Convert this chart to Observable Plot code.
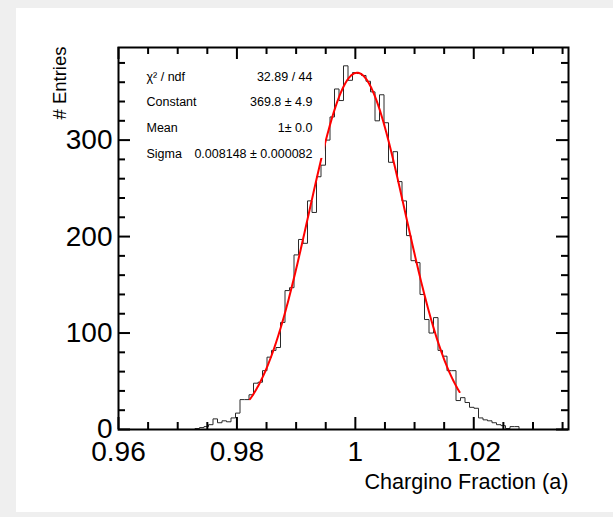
<!DOCTYPE html>
<html>
<head>
<meta charset="utf-8">
<script src="https://cdn.jsdelivr.net/npm/d3@7"></script>
<script src="https://cdn.jsdelivr.net/npm/@observablehq/plot@0.6"></script>
<style>
  html, body { margin: 0; padding: 0; background: #efefef; }
  #wrap { position: relative; width: 613px; height: 517px; overflow: hidden; background: #efefef; }
  #card { position: absolute; left: 16px; top: 8px; width: 620px; height: 504px; background: #ffffff; }
  #chart { position: absolute; left: 0; top: 0; }
</style>
</head>
<body>
<div id="wrap"><div id="card"></div><div id="chart"></div></div>
<script>
// ---- data: 100 bins from 0.96 to 1.036 ----
const binStart = 0.96;
const binWidth = 0.00076;
const counts = [
  0,0,0,0,0,0,0,0,0,0,
  0,0,0,0,0,0,0,1,2,3,
  5,11,7,9,8,12,17,31,31,36,
  48,49,61,75,82,85,111,144,147,181,
  197,193,237,225,262,274,300,324,353,341,
  377,362,370,369,367,361,350,320,347,318,
  277,288,257,237,201,175,173,140,114,100,
  116,82,76,61,61,30,33,28,23,22,
  12,10,9,7,5,4,1,3,3,0,
  0,0,0,0,0,0,0,0,0,0
];
const xTicks = [0.96, 0.98, 1, 1.02];
const xTickLabels = ["0.96", "0.98", "1", "1.02"];
const yTicks = [0, 100, 200, 300];
const yTickLabels = ["0", "100", "200", "300"];
const fitConstant = 369.8;
const fitMean = 1.0003;
const fitSigma = 0.008148;
const fitRange = [0.9822, 1.0176];
const statLabels = ["\u03C7\u00B2 / ndf", "Constant", "Mean", "Sigma"];
const statValues = ["32.89 / 44", "369.8 \u00B1 4.9", "1\u00B1 0.0", "0.008148 \u00B1 0.000082"];
const xTitle = "Chargino Fraction (a)";
const yTitle = "# Entries";
const xDomain = [0.96, 1.036];
const yDomain = [0, 396];
const statsBox = [{x1: 0.96, x2: 0.99493, y1: 281, y2: 396}];

// ---- derived ----
const histPts = counts.map((c, i) => ({x: binStart + i * binWidth, y: c}));
histPts.push({x: binStart + counts.length * binWidth, y: counts[counts.length - 1]});
const fitFn = x => fitConstant * Math.exp(-0.5 * ((x - fitMean) / fitSigma) ** 2);
const fitPts = d3.range(0, 201).map(i => {
  const x = fitRange[0] + (fitRange[1] - fitRange[0]) * i / 200;
  return {x, y: fitFn(x)};
});
const xMinor = d3.range(0, 16).map(i => +(0.96 + i * 0.005).toFixed(4)).filter(v => !xTicks.some(t => Math.abs(t - v) < 1e-9));
const yMinor = d3.range(0, 20).map(i => i * 20).filter(v => v % 100 !== 0);
const statRows = statLabels.map((l, i) => ({label: l, value: statValues[i], row: i}));

const W = 613, H = 517;
const mL = 118, mR = 45, mT = 47, mB = 88;
const fw = W - mL - mR, fh = H - mT - mB;
const font = "'Liberation Sans', Arial, Helvetica, sans-serif";

const plot = Plot.plot({
  width: W, height: H,
  marginLeft: mL, marginRight: mR, marginTop: mT, marginBottom: mB,
  style: {background: "transparent", fontFamily: font, color: "#000"},
  x: {domain: xDomain, axis: null},
  y: {domain: yDomain, axis: null},
  marks: [
    Plot.line(histPts, {x: "x", y: "y", curve: "step-after", stroke: "#2a2a2a", strokeWidth: 1}),
    Plot.line(fitPts, {x: "x", y: "y", stroke: "#ff0000", strokeWidth: 2}),
    Plot.rect(statsBox, {x1: "x1", x2: "x2", y1: "y1", y2: "y2", fill: "white"}),
    ...statRows.map(r => Plot.text([r], {text: "label", frameAnchor: "top-left", dx: 28, dy: 29 + r.row * 25.7, textAnchor: "start", lineAnchor: "middle", fontSize: 12.5, fill: "#000"})),
    ...statRows.map(r => Plot.text([r], {text: "value", frameAnchor: "top-left", dx: 194, dy: 29 + r.row * 25.7, textAnchor: "end", lineAnchor: "middle", fontSize: 12.5, fill: "#000"})),
    Plot.tickX(xTicks, {x: d => d, insetTop: fh - 12, stroke: "black", strokeWidth: 2}),
    Plot.tickX(xMinor, {x: d => d, insetTop: fh - 7, stroke: "black", strokeWidth: 2}),
    Plot.tickX(xTicks, {x: d => d, insetBottom: fh - 12, stroke: "black", strokeWidth: 2}),
    Plot.tickX(xMinor, {x: d => d, insetBottom: fh - 7, stroke: "black", strokeWidth: 2}),
    Plot.tickY(yTicks, {y: d => d, insetRight: fw - 12, stroke: "black", strokeWidth: 2}),
    Plot.tickY(yMinor, {y: d => d, insetRight: fw - 7, stroke: "black", strokeWidth: 2}),
    Plot.tickY(yTicks, {y: d => d, insetLeft: fw - 12, stroke: "black", strokeWidth: 2}),
    Plot.tickY(yMinor, {y: d => d, insetLeft: fw - 7, stroke: "black", strokeWidth: 2}),
    Plot.frame({stroke: "black", strokeWidth: 2}),
    Plot.text(xTicks, {x: d => d, text: (d, i) => xTickLabels[i], frameAnchor: "bottom", dy: 31, fontSize: 28, fill: "#000"}),
    Plot.text(yTicks, {y: d => d, text: (d, i) => yTickLabels[i], frameAnchor: "left", dx: -6, textAnchor: "end", fontSize: 28, fill: "#000"}),
    Plot.text([xTitle], {text: d => d, frameAnchor: "bottom-right", dy: 59, textAnchor: "end", fontSize: 21.6, fill: "#000"}),
    Plot.text([yTitle], {text: d => d, frameAnchor: "top-left", dx: -66, dy: -1, rotate: -90, textAnchor: "end", fontSize: 18.5, fill: "#000"})
  ]
});
document.getElementById("chart").appendChild(plot);
</script>
</body>
</html>
